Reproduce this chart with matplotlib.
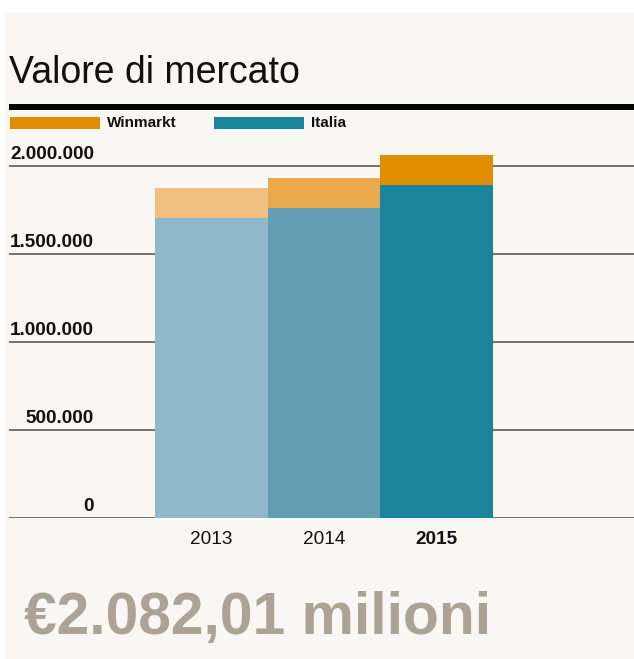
import matplotlib
matplotlib.use("Agg")
import matplotlib.pyplot as plt
from matplotlib.patches import Rectangle
from matplotlib.transforms import blended_transform_factory, offset_copy

# ---- data ----
years = ["2013", "2014", "2015"]
italia = [1702000, 1759000, 1889000]
winmarkt = [170000, 170000, 171000]
ytick_values = [0, 500000, 1000000, 1500000, 2000000]
ytick_labels = ["0", "500.000", "1.000.000", "1.500.000", "2.000.000"]
series_names = ["Winmarkt", "Italia"]
title = "Valore di mercato"
headline = "€2.082,01 milioni"

# ---- styles ----
italia_colors = ["#8fb8cb", "#639eb4", "#1a849c"]
winmarkt_colors = ["#f0c080", "#e8aa4b", "#df8e00"]
legend_colors = ["#df8e00", "#1a849c"]
bg = "#f9f7f3"
grid_col = "#666666"
W, H = 634, 659
REG = ["Liberation Sans", "DejaVu Sans"]

fig = plt.figure(figsize=(W / 100, H / 100), dpi=100, facecolor="white")

def fx(px):
    return px / W

def fy(py):
    return 1 - py / H

# cream panel
fig.patches.append(Rectangle((fx(5), fy(659)), fx(634) - fx(5), fy(13) - fy(659),
                             transform=fig.transFigure, facecolor=bg, edgecolor="none", zorder=-10))

# title
fig.text(fx(9), fy(83), title, fontsize=27, family=REG, color="#111111", va="baseline", ha="left")

# thick rule
fig.patches.append(Rectangle((fx(9), fy(110)), fx(634) - fx(9), fy(104.5) - fy(110),
                             transform=fig.transFigure, facecolor="black", edgecolor="none", zorder=1))

# legend
leg_x = [10, 214]
for name, col, lx in zip(series_names, legend_colors, leg_x):
    fig.patches.append(Rectangle((fx(lx), fy(129)), fx(90), fy(117) - fy(129),
                                 transform=fig.transFigure, facecolor=col, edgecolor="none", zorder=1))
    fig.text(fx(lx + 97), fy(123), name, fontsize=11, family=REG, fontweight="bold",
             color="#111111", va="center", ha="left")

# axes: x pixels 9..634, y pixels 145..517.5
ax_left, ax_right, ax_top, ax_bot = 9, 634, 145, 517.5
ax = fig.add_axes([fx(ax_left), fy(ax_bot), fx(ax_right) - fx(ax_left), fy(ax_top) - fy(ax_bot)])
ax.set_facecolor("none")
ax.set_zorder(2)
px_per_unit = 112.5
x0 = -0.5 - (155 - ax_left) / px_per_unit
x1 = x0 + (ax_right - ax_left) / px_per_unit
ax.set_xlim(x0, x1)
px_per_val = 176 / 1e6
ax.set_ylim(0, (ax_bot - ax_top) / px_per_val)
for s in ax.spines.values():
    s.set_visible(False)
ax.set_xticks([])
ax.set_yticks([])

xs = list(range(len(years)))
ax.bar(xs, italia, width=1.0, color=italia_colors, zorder=3, linewidth=0)
ax.bar(xs, winmarkt, bottom=italia, width=1.0, color=winmarkt_colors, zorder=3, linewidth=0)

for v in ytick_values:
    ax.axhline(v, color=grid_col, linewidth=1.3, zorder=1)

trans = blended_transform_factory(fig.transFigure, ax.transData)
trans_up = offset_copy(trans, fig=fig, x=0, y=6.5, units="dots")
for v, lab in zip(ytick_values, ytick_labels):
    ax.text(fx(94), v, lab, transform=trans_up, ha="right", va="baseline",
            fontsize=13.6, fontweight="bold", family=REG, color="#111111", clip_on=False)

trans_dn = offset_copy(ax.transData, fig=fig, x=0, y=-22.5, units="dots")
for i, y in enumerate(years):
    ax.text(i, 0, y, transform=trans_dn, ha="center", va="center", fontsize=13.7,
            family=REG, color="#111111", clip_on=False,
            fontweight="bold" if i == len(years) - 1 else "normal")

# headline
fig.text(fx(24), fy(634), headline, fontsize=42.3, family=REG, fontweight="bold",
         color="#aba396", va="baseline", ha="left")

fig.savefig("out.png", dpi=100, facecolor="white")
